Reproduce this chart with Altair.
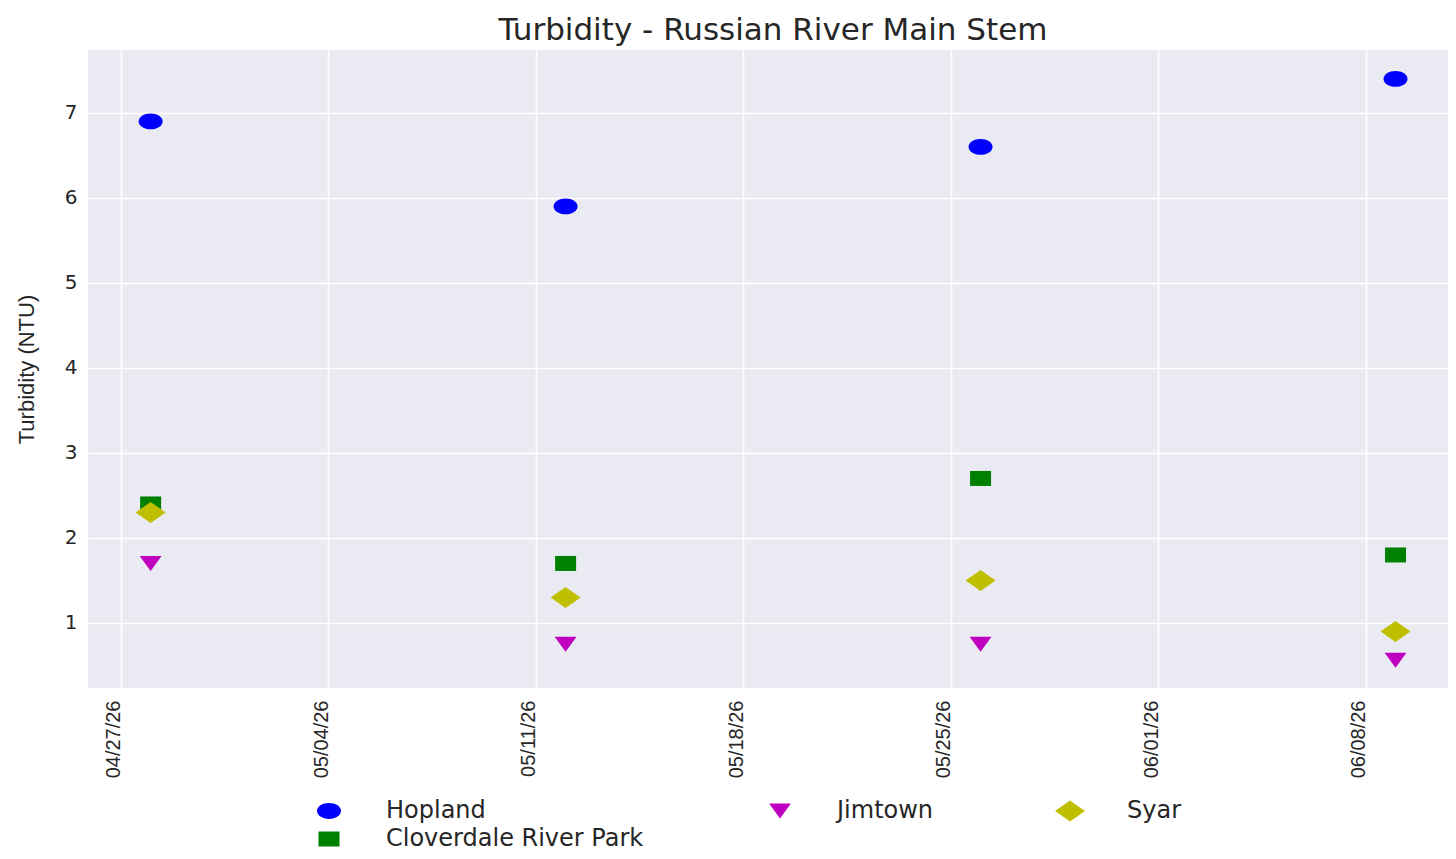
import altair as alt
import pandas as pd

# ---- data ----
dates = ["2026-04-28T00:00:00", "2026-05-12T00:00:00", "2026-05-26T00:00:00", "2026-06-09T00:00:00"]
hopland = [6.9, 5.9, 6.6, 7.4]
cloverdale = [2.4, 1.7, 2.7, 1.8]
jimtown = [1.7, 0.75, 0.75, 0.56]
syar = [2.3, 1.3, 1.5, 0.9]

sites = ["Hopland", "Cloverdale River Park", "Jimtown", "Syar"]           # drawing order
legend_order = ["Hopland", "Syar", "Jimtown", "Cloverdale River Park"]
site_colors = ["#0000ff", "#bfbf00", "#bf00bf", "#008000"]
tick_dates = [(2026, 4, 27), (2026, 5, 4), (2026, 5, 11), (2026, 5, 18),
              (2026, 5, 25), (2026, 6, 1), (2026, 6, 8)]
y_ticks = [1, 2, 3, 4, 5, 6, 7]

# marker outlines (unit box -1..1), slightly wide like the reference
ellipse = ("M0.8,0C0.8,0.293,0.442,0.53,0,0.53C-0.442,0.53,-0.8,0.293,-0.8,0"
           "C-0.8,-0.293,-0.442,-0.53,0,-0.53C0.442,-0.53,0.8,-0.293,0.8,0Z")
tri_down = "M-0.73,-0.5L0.73,-0.5L0,0.5Z"
diamond = "M-1,0L0,-0.7L1,0L0,0.7Z"
square = "M-0.7,-0.5L0.7,-0.5L0.7,0.5L-0.7,0.5Z"
site_shapes = [ellipse, diamond, tri_down, square]

series = {"Hopland": hopland, "Cloverdale River Park": cloverdale,
          "Jimtown": jimtown, "Syar": syar}
rows = []
for s in sites:
    for d, v in zip(dates, series[s]):
        rows.append({"site": s, "date": d, "value": v})
df = pd.DataFrame(rows)

TXT = "#262626"

legend = alt.Legend(
    title=None, orient="none", legendX=226, legendY=746, columns=3,
    columnPadding=121, rowPadding=1, symbolSize=900, labelOffset=42,
    labelFont="DejaVu Sans", labelFontSize=24, labelLimit=400, labelColor=TXT,
    symbolStrokeWidth=0, symbolOpacity=1, padding=0,
)

chart = alt.Chart(df).mark_point(filled=True, size=900, opacity=1, strokeWidth=0).encode(
    x=alt.X(
        "date:T",
        title=None,
        scale=alt.Scale(domain=[
            alt.DateTime(year=2026, month=4, date=25, hours=21, minutes=17),
            alt.DateTime(year=2026, month=6, date=10, hours=18, minutes=29),
        ]),
        axis=alt.Axis(
            values=[alt.DateTime(year=y, month=m, date=d) for (y, m, d) in tick_dates],
            format="%m/%d/%y", labelAngle=270, labelFont="Liberation Sans",
            labelFontSize=20, labelColor=TXT, labelPadding=12, labelOffset=-7,
            tickSize=0, domain=False, grid=True, gridColor="white", gridWidth=1.6,
        ),
    ),
    y=alt.Y(
        "value:Q",
        title="Turbidity (NTU)",
        scale=alt.Scale(domain=[0.235, 7.74], nice=False, zero=False),
        axis=alt.Axis(
            values=y_ticks, labelFont="DejaVu Sans", labelFontSize=20, labelColor=TXT,
            labelPadding=11, tickSize=0, domain=False, grid=True, gridColor="white",
            gridWidth=1.6, titleFont="Liberation Sans", titleFontSize=22,
            titleFontWeight="normal", titleColor=TXT, titlePadding=26,
        ),
    ),
    color=alt.Color("site:N", scale=alt.Scale(domain=legend_order, range=site_colors), legend=legend),
    shape=alt.Shape("site:N", scale=alt.Scale(domain=legend_order, range=site_shapes), legend=legend),
).properties(
    width=1360,
    height=638,
    background="white",
    title=alt.TitleParams(
        "Turbidity - Russian River Main Stem", font="DejaVu Sans", fontSize=31,
        fontWeight="normal", color=TXT, anchor="middle", baseline="alphabetic",
        offset=13, dy=34, dx=5,
    ),
    autosize=alt.AutoSizeParams(type="none"),
    padding={"left": 80, "top": 42, "right": 0, "bottom": 163},
).configure_view(
    fill="#eaeaf2", stroke=None
)

chart.save("out.html", embed_options={"renderer": "svg", "actions": False})
